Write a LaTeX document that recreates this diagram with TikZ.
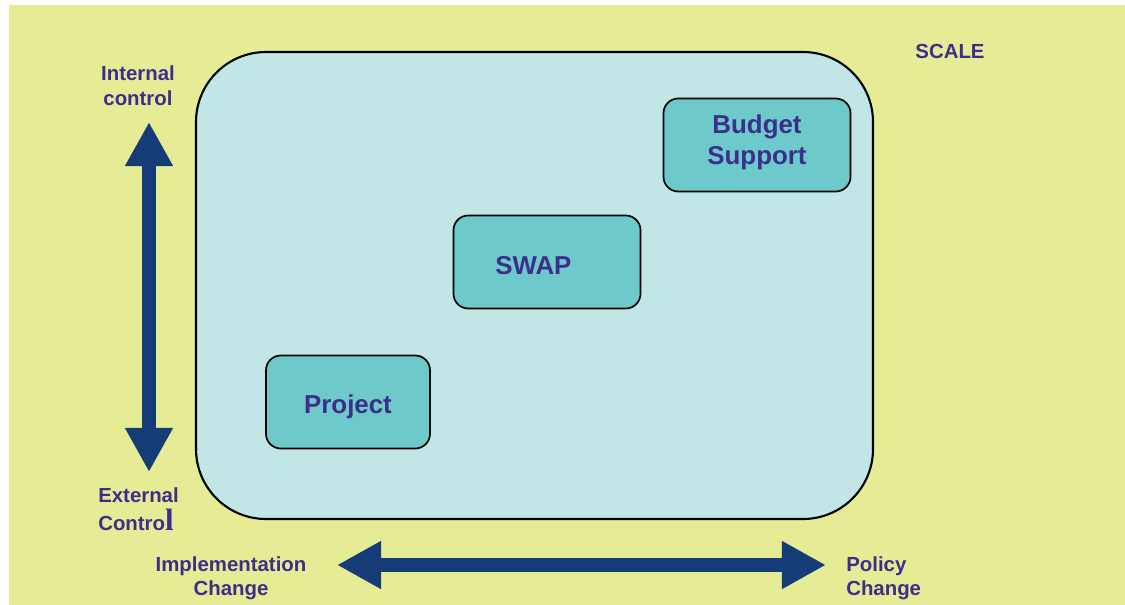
\documentclass[tikz,border=0pt]{standalone}
\usepackage{fontspec}
\setmainfont{Liberation Sans}
\newfontfamily\serifl{Liberation Serif}
\usetikzlibrary{arrows.meta}

\definecolor{paper}{HTML}{E6EB96}
\definecolor{panel}{HTML}{C2E5E5}
\definecolor{boxfill}{HTML}{6ECACA}
\definecolor{ink}{HTML}{3D2E8C}
\definecolor{axis}{HTML}{163C78}

\tikzset{
  lbl/.style={text=ink,font=\bfseries\fontsize{14.5}{17.4}\selectfont,inner sep=0pt},
  aidbox/.style={draw=black,line width=1.2pt,fill=boxfill,rounded corners=0.37cm,
    minimum height=2.325cm,text=ink,font=\bfseries\fontsize{18.4}{22}\selectfont,align=center},
  bigarrow/.style={axis,line width=0.33cm,{Triangle[length=1.1cm,width=1.12cm]}-{Triangle[length=1.1cm,width=1.12cm]}}
}

\begin{document}
\begin{tikzpicture}[x=0.025cm,y=-0.025cm]
    \useasboundingbox (0,0) rectangle (1125,605);
    \fill[white] (0,0) rectangle (1125,605);
    \fill[paper] (9,5) rectangle (1125,605);
    \draw[fill=panel,line width=1.5pt,rounded corners=1.75cm] (196,52) rectangle (873,519);
    % text nudged inside the boxes
    \node[aidbox,minimum width=4.675cm,text depth=8.2pt] (budget) at (757,145) {Budget\\Support};
    \node[aidbox,minimum width=4.675cm,text height=17.5pt] (swap) at (547,262) {SWAP\hspace{0.68cm}};
    \node[aidbox,minimum width=4.1cm,text height=20.5pt] (project) at (348,402) {Project};
    \node[lbl,align=center] (internal) at (138,85.5) {Internal\\control};
    \node[lbl,align=left,anchor=north west] (external) at (98,487) {External\\[3pt]Contro{\serifl\fontsize{22}{22}\selectfont l}};
    \node[lbl,align=center] (impl) at (231,578.5) {Implementation\\Change};
    \node[lbl,align=left,anchor=west] (policy) at (846,578.5) {Policy\\Change};
    \node[lbl] (scale) at (950,51) {SCALE};
    \coordinate (top) at (149,122);
    \coordinate (bottom) at (149,472);
    \coordinate (left) at (337,565);
    \coordinate (right) at (826,565);
    \draw[bigarrow] (top) -- (bottom);
    \draw[bigarrow] (left) -- (right);
\end{tikzpicture}
\end{document}
